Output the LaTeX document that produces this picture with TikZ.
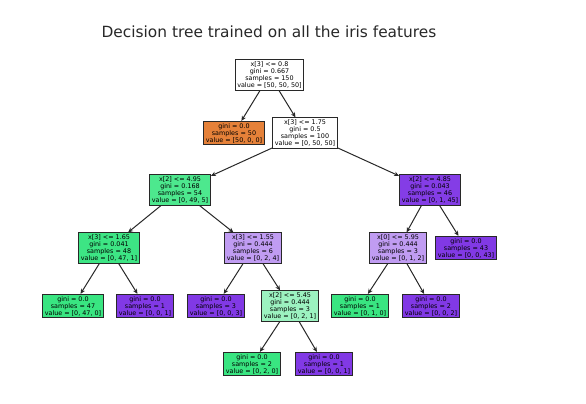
\documentclass[tikz,border=0pt]{standalone}
\usepackage{fontspec}
\setmainfont{DejaVu Sans}
\usetikzlibrary{arrows.meta}
\definecolor{cwhite}{RGB}{255,255,255}
\definecolor{corange}{RGB}{229,129,57}
\definecolor{cgreen}{RGB}{57,229,129}
\definecolor{cpurple}{RGB}{129,57,229}
\definecolor{cgreenA}{RGB}{77,232,142}
\definecolor{cgreenB}{RGB}{61,229,132}
\definecolor{cgreenC}{RGB}{156,242,192}
\definecolor{cpurpleA}{RGB}{132,61,230}
\definecolor{cpurpleC}{RGB}{192,156,242}
\definecolor{cborder}{RGB}{40,40,40}
\tikzset{
  tnode/.style={draw=cborder, line width=1.1pt, align=center, inner xsep=2.2pt, inner ysep=1.7pt,
    font=\fontsize{6.4}{7.0}\selectfont},
  edge/.style={-{Stealth[length=5pt,width=4.5pt]}, line width=1pt, draw=cborder}
}
\begin{document}
\begin{tikzpicture}[x=1pt,y=-1pt]
\useasboundingbox (0,0) rectangle (586,404);
\node[font=\fontsize{15.4}{17}\selectfont, text=cborder] (title) at (269,32) {Decision tree trained on all the iris features};
\node[tnode, fill=cwhite] (n0) at (269.5,75) {x[3] <= 0.8\\gini = 0.667\\samples = 150\\value = [50, 50, 50]};
\node[tnode, fill=corange] (n1) at (234,133) {gini = 0.0\\samples = 50\\value = [50, 0, 0]};
\node[tnode, fill=cwhite] (n2) at (305,133) {x[3] <= 1.75\\gini = 0.5\\samples = 100\\value = [0, 50, 50]};
\node[tnode, fill=cgreenA] (n3) at (180,190) {x[2] <= 4.95\\gini = 0.168\\samples = 54\\value = [0, 49, 5]};
\node[tnode, fill=cpurpleA] (n4) at (430,190) {x[2] <= 4.85\\gini = 0.043\\samples = 46\\value = [0, 1, 45]};
\node[tnode, fill=cgreenB] (n5) at (109,248) {x[3] <= 1.65\\gini = 0.041\\samples = 48\\value = [0, 47, 1]};
\node[tnode, fill=cpurpleC] (n6) at (253,248) {x[3] <= 1.55\\gini = 0.444\\samples = 6\\value = [0, 2, 4]};
\node[tnode, fill=cpurpleC] (n7) at (398,248) {x[0] <= 5.95\\gini = 0.444\\samples = 3\\value = [0, 1, 2]};
\node[tnode, fill=cpurple] (n8) at (466,248) {gini = 0.0\\samples = 43\\value = [0, 0, 43]};
\node[tnode, fill=cgreen] (n9) at (73,306) {gini = 0.0\\samples = 47\\value = [0, 47, 0]};
\node[tnode, fill=cpurple] (n10) at (145,306) {gini = 0.0\\samples = 1\\value = [0, 0, 1]};
\node[tnode, fill=cpurple] (n11) at (216,306) {gini = 0.0\\samples = 3\\value = [0, 0, 3]};
\node[tnode, fill=cgreenC] (n12) at (290,306) {x[2] <= 5.45\\gini = 0.444\\samples = 3\\value = [0, 2, 1]};
\node[tnode, fill=cgreen] (n13) at (360,306) {gini = 0.0\\samples = 1\\value = [0, 1, 0]};
\node[tnode, fill=cpurple] (n14) at (431,306) {gini = 0.0\\samples = 2\\value = [0, 0, 2]};
\node[tnode, fill=cgreen] (n15) at (252,364) {gini = 0.0\\samples = 2\\value = [0, 2, 0]};
\node[tnode, fill=cpurple] (n16) at (324,364) {gini = 0.0\\samples = 1\\value = [0, 0, 1]};
\draw[edge] (n0) -- (n1);
\draw[edge] (n0) -- (n2);
\draw[edge] (n2) -- (n3);
\draw[edge] (n2) -- (n4);
\draw[edge] (n3) -- (n5);
\draw[edge] (n3) -- (n6);
\draw[edge] (n4) -- (n7);
\draw[edge] (n4) -- (n8);
\draw[edge] (n5) -- (n9);
\draw[edge] (n5) -- (n10);
\draw[edge] (n6) -- (n11);
\draw[edge] (n6) -- (n12);
\draw[edge] (n7) -- (n13);
\draw[edge] (n7) -- (n14);
\draw[edge] (n12) -- (n15);
\draw[edge] (n12) -- (n16);
\end{tikzpicture}
\end{document}
